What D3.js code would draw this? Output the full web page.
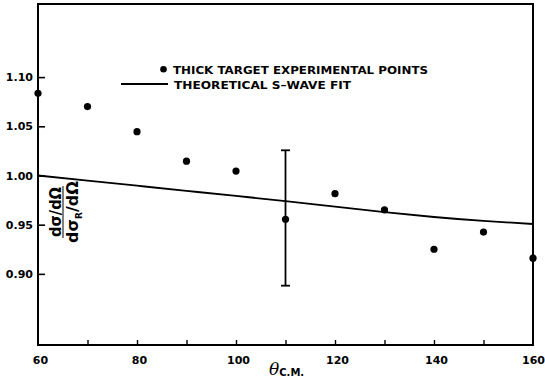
<!DOCTYPE html>
<html>
<head>
<meta charset="utf-8">
<script src="https://cdn.jsdelivr.net/npm/d3@7"></script>
<style>
  html, body { margin: 0; padding: 0; background: #fff; }
  svg { display: block; }
  text { font-family: "DejaVu Sans", "Liberation Sans", sans-serif; fill: #000; }
</style>
</head>
<body>
<svg id="chart" width="545" height="383"></svg>
<script>
// Scattering angle (centre-of-mass frame, degrees)
const angles = [60, 70, 80, 90, 100, 110, 120, 130, 140, 150, 160];
// Ratio of measured to Rutherford cross section, thick-target points
const measured = [1.0835, 1.070, 1.0445, 1.0145, 1.0045, 0.9555, 0.9815, 0.965, 0.925, 0.9425, 0.916];
// Theoretical S-wave fit at the same angles
const fitValues = [1.000, 0.9948, 0.9896, 0.9844, 0.9792, 0.974, 0.9683, 0.9628, 0.9578, 0.9538, 0.9507];
// Representative error bar
const errAngle = 110;
const errLow = 0.888;
const errHigh = 1.0256;

const yTicks = [0.90, 0.95, 1.00, 1.05, 1.10];
const xTicks = [60, 70, 80, 90, 100, 110, 120, 130, 140, 150, 160];
const xLabelled = [60, 80, 100, 120, 140, 160];

const legendLabels = ["THICK TARGET EXPERIMENTAL POINTS", "THEORETICAL S\u2013WAVE FIT"];

const svg = d3.select("#chart");
const m = { left: 38, right: 533, top: 4, bottom: 345 };

const x = d3.scaleLinear().domain([60, 160]).range([m.left, m.right]);
const y = d3.scaleLinear().domain([0.8277, 1.1743]).range([m.bottom, m.top]);

// Frame
svg.append("rect")
  .attr("x", m.left).attr("y", m.top)
  .attr("width", m.right - m.left).attr("height", m.bottom - m.top)
  .attr("fill", "none").attr("stroke", "#000").attr("stroke-width", 2);

// Left axis: inward ticks
const yAxis = d3.axisLeft(y).tickValues(yTicks).tickSizeInner(-7).tickSizeOuter(0)
  .tickPadding(12).tickFormat(d3.format(".2f"));
const gy = svg.append("g").attr("transform", `translate(${m.left},0)`).call(yAxis);
gy.select(".domain").remove();
gy.selectAll(".tick line").attr("stroke", "#000").attr("stroke-width", 1.6);
gy.selectAll(".tick text")
  .attr("x", -5)
  .style("font-size", "11px").style("font-weight", "bold")
  .style("font-family", "'DejaVu Sans', sans-serif");

// Bottom axis: inward ticks, labels every 20 degrees
const xAxis = d3.axisBottom(x).tickValues(xTicks).tickSizeInner(-5).tickSizeOuter(0)
  .tickPadding(11).tickFormat(d => xLabelled.includes(d) ? d3.format("d")(d) : "");
const gx = svg.append("g").attr("transform", `translate(0,${m.bottom})`).call(xAxis);
gx.select(".domain").remove();
gx.selectAll(".tick line").attr("stroke", "#000").attr("stroke-width", 1.4)
  .attr("display", d => (d === 60 || d === 160) ? "none" : null);
gx.selectAll(".tick text")
  .attr("dx", d => d === 160 ? 0 : 2)
  .style("font-size", "11px").style("font-weight", "bold")
  .style("font-family", "'DejaVu Sans', sans-serif");

// Theoretical fit curve
const line = d3.line().x((d, i) => x(angles[i])).y(d => y(d)).curve(d3.curveNatural);
svg.append("path").datum(fitValues)
  .attr("d", line).attr("fill", "none").attr("stroke", "#000").attr("stroke-width", 1.8);

// Error bar
const eb = svg.append("g").attr("stroke", "#000").attr("stroke-width", 1.8);
eb.append("line").attr("x1", x(errAngle)).attr("x2", x(errAngle)).attr("y1", y(errHigh)).attr("y2", y(errLow));
[errHigh, errLow].forEach(v => {
  eb.append("line").attr("x1", x(errAngle) - 4.5).attr("x2", x(errAngle) + 4.5)
    .attr("y1", y(v)).attr("y2", y(v));
});

// Experimental points
svg.append("g").selectAll("circle").data(measured).join("circle")
  .attr("cx", (d, i) => x(angles[i])).attr("cy", d => y(d))
  .attr("r", 3.6).attr("fill", "#000");

// Legend
const lg = svg.append("g");
lg.append("circle").attr("cx", 163.5).attr("cy", 69.3).attr("r", 3.3).attr("fill", "#000");
lg.append("text").attr("x", 173).attr("y", 73.5).text(legendLabels[0])
  .attr("textLength", 255).attr("lengthAdjust", "spacingAndGlyphs")
  .style("font-size", "10.5px").style("font-weight", "bold");
lg.append("line").attr("x1", 121).attr("x2", 168).attr("y1", 84).attr("y2", 84)
  .attr("stroke", "#000").attr("stroke-width", 1.8);
lg.append("text").attr("x", 174).attr("y", 88.5).text(legendLabels[1])
  .attr("textLength", 177).attr("lengthAdjust", "spacingAndGlyphs")
  .style("font-size", "10.5px").style("font-weight", "bold");

// Y-axis quantity: ratio of differential cross sections
const yl = svg.append("g").attr("transform", "translate(62,212) rotate(-90)");
yl.append("text").attr("x", 0).attr("y", -1).attr("text-anchor", "middle")
  .attr("textLength", 50).attr("lengthAdjust", "spacingAndGlyphs")
  .style("font-size", "16px").style("font-weight", "bold").text("d\u03c3/d\u03a9");
yl.append("line").attr("x1", -26).attr("x2", 26).attr("y1", 1).attr("y2", 1)
  .attr("stroke", "#000").attr("stroke-width", 1);
const den = yl.append("text").attr("x", 0).attr("y", 15.5).attr("text-anchor", "middle")
  .style("font-size", "16px").style("font-weight", "bold");
den.append("tspan").text("d\u03c3");
den.append("tspan").attr("dy", 4).style("font-size", "9px").text("R");
den.append("tspan").attr("dy", -4).text("/d\u03a9");

// X-axis quantity
const xl = svg.append("text").attr("x", 269).attr("y", 375);
xl.append("tspan").style("font-size", "17px").style("font-style", "italic")
  .style("font-family", "'DejaVu Serif', serif").text("\u03b8");
xl.append("tspan").attr("dy", 1).style("font-size", "10px").style("font-weight", "bold").text("C.M.");
</script>
</body>
</html>
